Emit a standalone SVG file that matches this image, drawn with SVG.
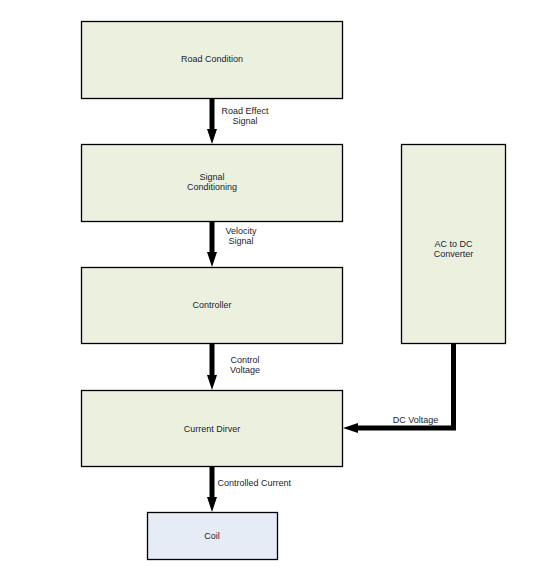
<svg xmlns="http://www.w3.org/2000/svg" width="542" height="576" viewBox="0 0 542 576">
<style>
.box{fill:#EBF1DE;stroke:#000;stroke-width:1.3}
.coil{fill:#E6ECF5;stroke:#000;stroke-width:1.3}
text{font-family:"Liberation Sans",Arial,sans-serif;font-size:9px;fill:#1c1c30}
.c{text-anchor:middle}
.conn{fill:none;stroke:#000;stroke-width:5;marker-end:url(#ah)}
</style>
<defs>
<marker id="ah" viewBox="0 0 15 10" refX="0" refY="5" markerWidth="15" markerHeight="10" markerUnits="userSpaceOnUse" orient="auto">
<path d="M0,0 L15,5 L0,10 z" fill="#000"/>
</marker>
</defs>
<rect width="542" height="576" fill="#fff"/>
<g id="connectors">
<path class="conn" d="M212,98 V129"/>
<path class="conn" d="M212,221 V252"/>
<path class="conn" d="M212,343 V375"/>
<path class="conn" d="M212,466 V497"/>
<path class="conn" d="M453.5,343 V428 H358"/>
<text class="c" x="245" y="114">Road Effect</text>
<text class="c" x="245" y="124">Signal</text>
<text class="c" x="241" y="234">Velocity</text>
<text class="c" x="241" y="244">Signal</text>
<text class="c" x="245" y="363">Control</text>
<text class="c" x="245" y="373">Voltage</text>
<text class="c" x="415.5" y="423">DC Voltage</text>
<text x="217.5" y="485.5">Controlled Current</text>
</g>
<g id="road-condition">
<rect class="box" x="81.5" y="21.5" width="261" height="77"/>
<text class="c" x="212" y="62">Road Condition</text>
</g>
<g id="signal-conditioning">
<rect class="box" x="81.5" y="144.5" width="261" height="77"/>
<text class="c" x="212" y="180">Signal</text>
<text class="c" x="212" y="190">Conditioning</text>
</g>
<g id="controller">
<rect class="box" x="81.5" y="267.5" width="261" height="76"/>
<text class="c" x="212" y="308">Controller</text>
</g>
<g id="ac-dc-converter">
<rect class="box" x="401.5" y="144.5" width="104" height="199"/>
<text class="c" x="453.5" y="247">AC to DC</text>
<text class="c" x="453.5" y="257">Converter</text>
</g>
<g id="current-driver">
<rect class="box" x="81.5" y="390.5" width="261" height="76"/>
<text class="c" x="212" y="432">Current Dirver</text>
</g>
<g id="coil">
<rect class="coil" x="147.5" y="512.5" width="130" height="47"/>
<text class="c" x="212" y="539">Coil</text>
</g>
</svg>
